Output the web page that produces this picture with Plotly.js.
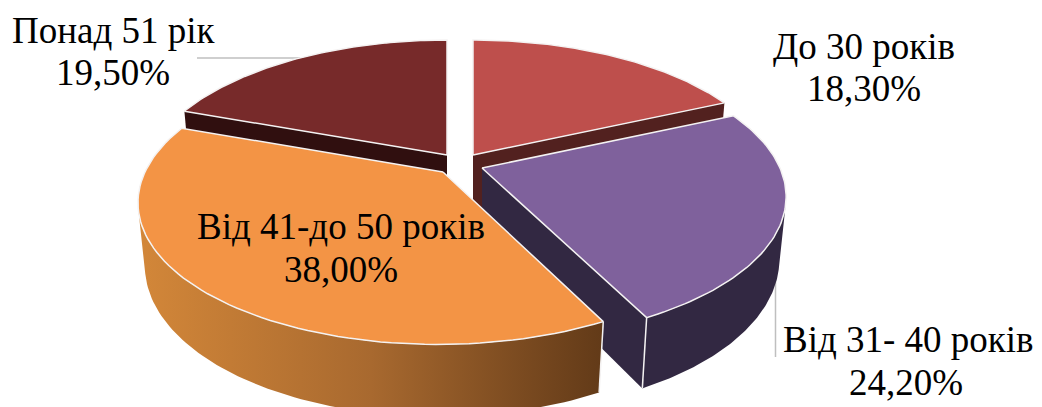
<!DOCTYPE html>
<html>
<head>
<meta charset="utf-8">
<script src="https://cdn.plot.ly/plotly-3.0.1.min.js"></script>
<style>html,body{margin:0;padding:0;background:#fff;overflow:hidden}#chart{width:1042px;height:407px}</style>
</head>
<body>
<div id="chart"></div>
<script>
// Age groups and their shares, clockwise from twelve o'clock
const categories = ['До 30 років', 'Від 31- 40 років', 'Від 41-до 50 років', 'Понад 51 рік'];
const shares = [18.3, 24.2, 38.0, 19.5];

const topColors = ['#BE4F4C', '#7F619C', '#F39445', '#772A2A'];
const faceColors = ['#52211F', '#322842', null, '#300F0F'];
const rimColors = ['#52211F', '#322842', null, '#300F0F'];
const rimGradient = [[0, '#D38739'], [0.5, '#A8692F'], [1, '#623A18']];
// Which radial cut of a slice shows its thickness: 'end', 'start' or none
const visibleCut = ['end', 'end', null, 'start'];

// Where each exploded slice has its tip, in plot units
const tipX = [473, 482, 443, 447];
const tipY = [155, 168, 172, 155];
const tipSkew = [0, 0, 4, 0];
// Perspective tilted disc; the rim shows between the two silhouette angles
const radiusX = 298, radiusY = 138, perspective = 0.2, depth = 63, depthFade = 0.022;
const rimStartAngle = 105, rimEndAngle = 255;

// Label placement: centre x and the y of each of the two lines
const labelX = [[864, 864], [908, 906], [341, 341], [114, 112.5]];
const labelY = [[46, 88], [339, 382], [226, 269], [30, 72]];
const leaderX = [[197, 300], [775.5, 775.5]];
const leaderY = [[58, 58], [280, 357]];

function project(i, angle, r, z) {
  const rad = angle * Math.PI / 180;
  const u = r * Math.sin(rad), v = r * Math.cos(rad);
  const s = 1 / (1 + perspective * v + depthFade * z);
  return [tipX[i] + (radiusX * u + tipSkew[i] * v) * s, tipY[i] + (-radiusY * v + depth * z) * s];
}

function arc(i, from, to, z) {
  const pts = [], n = 80;
  for (let k = 0; k <= n; k++) pts.push(project(i, from + (to - from) * k / n, 1, z));
  return pts;
}

function polygon(points, extra) {
  return Object.assign({
    x: points.map(p => p[0]), y: points.map(p => p[1]),
    type: 'scatter', mode: 'lines', fill: 'toself', hoverinfo: 'skip', showlegend: false
  }, extra);
}

const edge = {color: '#F4F2F2', width: 1.5};
const noEdge = {color: 'rgba(0,0,0,0)', width: 0};

const starts = [];
let running = 0;
shares.forEach(v => { starts.push(running * 3.6); running += v; });

const traces = [];
leaderX.forEach((lx, j) => traces.push({
  x: lx, y: leaderY[j], type: 'scatter', mode: 'lines',
  line: {color: '#BFBFBF', width: 1.5}, hoverinfo: 'skip', showlegend: false
}));

function seam(p, q) {
  traces.push({x: [p[0], q[0]], y: [p[1], q[1]], type: 'scatter', mode: 'lines',
    line: edge, hoverinfo: 'skip', showlegend: false});
}

function addSlice(i) {
  const a = starts[i], b = a + shares[i] * 3.6;
  const centreTop = project(i, a, 0, 0), centreLow = project(i, a, 0, 1);
  const topStart = project(i, a, 1, 0), topEnd = project(i, b, 1, 0);
  const lowStart = project(i, a, 1, 1), lowEnd = project(i, b, 1, 1);

  // radial cut face, seen through the gap between slices
  if (visibleCut[i]) {
    const cutTop = visibleCut[i] === 'end' ? topEnd : topStart;
    const cutLow = visibleCut[i] === 'end' ? lowEnd : lowStart;
    traces.push(polygon([centreTop, cutTop, cutLow, centreLow], {fillcolor: faceColors[i], line: noEdge}));
  }
  // outer rim along the front part of the arc
  const rimFrom = Math.max(a, rimStartAngle), rimTo = Math.min(b, rimEndAngle);
  if (rimFrom < rimTo) {
    const rimPts = arc(i, rimFrom, rimTo, 0).concat(arc(i, rimTo, rimFrom, 1));
    const style = rimColors[i]
      ? {fillcolor: rimColors[i], line: noEdge}
      : {fillgradient: {type: 'horizontal', colorscale: rimGradient}, line: noEdge};
    traces.push(polygon(rimPts, style));
  }
  // bright vertical seam at the front corner
  if (b > 90 && b < 180) seam(topEnd, lowEnd);
  if (a > 90 && a < 180) seam(topStart, lowStart);
  // top surface
  traces.push(polygon([centreTop].concat(arc(i, a, b, 0)).concat([centreTop]), {fillcolor: topColors[i], line: edge}));
}

// Back slices first, the front ones overlap them
[3, 0, 1, 2].forEach(addSlice);

const annotations = [];
categories.forEach((name, i) => {
  const pct = shares[i].toFixed(2).replace('.', ',') + '%';
  [name, pct].forEach((t, j) => annotations.push({
    x: labelX[i][j], y: labelY[i][j], xref: 'x', yref: 'y', text: t, showarrow: false,
    xanchor: 'center', yanchor: 'middle',
    font: {family: '"Liberation Serif", "Times New Roman", serif', size: 37, color: '#000'}
  }));
});

Plotly.newPlot('chart', traces, {
  width: 1042, height: 407,
  margin: {l: 0, r: 0, t: 0, b: 0},
  paper_bgcolor: '#fff', plot_bgcolor: '#fff',
  xaxis: {range: [0, 1042], visible: false, fixedrange: true},
  yaxis: {range: [407, 0], visible: false, fixedrange: true},
  annotations: annotations,
  showlegend: false
}, {displayModeBar: false, staticPlot: true});
</script>
</body>
</html>
